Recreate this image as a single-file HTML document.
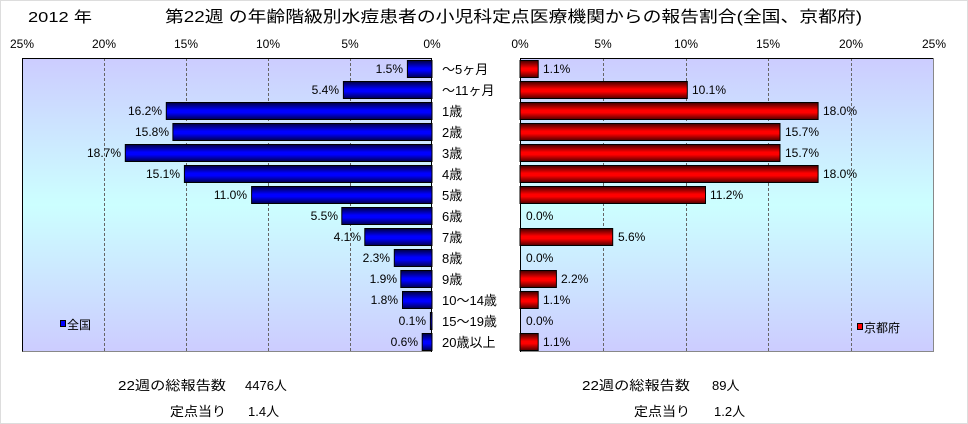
<!DOCTYPE html>
<html><head><meta charset="utf-8"><style>
html,body{margin:0;padding:0;background:#fff;}
svg{display:block;font-family:"Liberation Sans","Noto Sans CJK JP",sans-serif;}
</style></head><body>
<svg width="968" height="424" viewBox="0 0 968 424" xmlns="http://www.w3.org/2000/svg">
<defs>
<linearGradient id="bg" x1="0" y1="0" x2="0" y2="1">
<stop offset="0" stop-color="#ccccff"/><stop offset="0.5" stop-color="#ccffff"/><stop offset="1" stop-color="#ccccff"/>
</linearGradient>
<linearGradient id="bl" x1="0" y1="0" x2="0" y2="1">
<stop offset="0" stop-color="#000040"/><stop offset="0.45" stop-color="#0000ff"/><stop offset="0.6" stop-color="#0000ff"/><stop offset="1" stop-color="#000050"/>
</linearGradient>
<linearGradient id="rd" x1="0" y1="0" x2="0" y2="1">
<stop offset="0" stop-color="#400000"/><stop offset="0.45" stop-color="#ff0000"/><stop offset="0.6" stop-color="#ff0000"/><stop offset="1" stop-color="#500000"/>
</linearGradient>
</defs>
<rect x="0.5" y="0.5" width="967" height="423" fill="#fff" stroke="#ddd"/>
<text x="28" y="22" font-size="15" textLength="64" lengthAdjust="spacingAndGlyphs">2012 年</text>
<text x="165" y="22" font-size="16" textLength="697" lengthAdjust="spacingAndGlyphs">第22週 の年齢階級別水痘患者の小児科定点医療機関からの報告割合(全国、京都府)</text>
<g font-size="12" text-anchor="middle">
<text x="22" y="48">25%</text><text x="104" y="48">20%</text><text x="186" y="48">15%</text><text x="268" y="48">10%</text><text x="350" y="48">5%</text><text x="432" y="48">0%</text>
<text x="520" y="48">0%</text><text x="603" y="48">5%</text><text x="686" y="48">10%</text><text x="768" y="48">15%</text><text x="851" y="48">20%</text><text x="934" y="48">25%</text>
</g>
<rect x="22" y="58" width="410" height="294" fill="url(#bg)"/>
<rect x="520" y="58" width="414" height="294" fill="url(#bg)"/>
<g stroke="#666" stroke-dasharray="3,2" stroke-width="1">
<line x1="104.5" y1="58" x2="104.5" y2="352"/><line x1="186.5" y1="58" x2="186.5" y2="352"/><line x1="268.5" y1="58" x2="268.5" y2="352"/><line x1="350.5" y1="58" x2="350.5" y2="352"/>
<line x1="603.5" y1="58" x2="603.5" y2="352"/><line x1="686.5" y1="58" x2="686.5" y2="352"/><line x1="768.5" y1="58" x2="768.5" y2="352"/><line x1="851.5" y1="58" x2="851.5" y2="352"/>
</g>
<g fill="none">
<path d="M22.5 352 V58.5 H432" stroke="#000"/>
<path d="M22.5 351.5 H432" stroke="#888"/>
<path d="M520 58.5 H933.5" stroke="#000"/>
<path d="M933.5 58 V351.5 H520" stroke="#888"/>
<path d="M431.5 58 V352" stroke="#000"/>
<path d="M520.5 58 V352" stroke="#000"/>
</g>
<g fill="url(#bl)" stroke="#000" stroke-width="1">
<rect x="407.4" y="60.5" width="24.6" height="17"/>
<rect x="343.4" y="81.5" width="88.6" height="17"/>
<rect x="166.3" y="102.5" width="265.7" height="17"/>
<rect x="172.9" y="123.5" width="259.1" height="17"/>
<rect x="125.3" y="144.5" width="306.7" height="17"/>
<rect x="184.4" y="165.5" width="247.6" height="17"/>
<rect x="251.6" y="186.5" width="180.4" height="17"/>
<rect x="341.8" y="207.5" width="90.2" height="17"/>
<rect x="364.8" y="228.5" width="67.2" height="17"/>
<rect x="394.3" y="249.5" width="37.7" height="17"/>
<rect x="400.8" y="270.5" width="31.2" height="17"/>
<rect x="402.5" y="291.5" width="29.5" height="17"/>
<rect x="430.4" y="312.5" width="1.6" height="17"/>
<rect x="422.2" y="333.5" width="9.8" height="17"/>
</g>
<g fill="url(#rd)" stroke="#000" stroke-width="1">
<rect x="520" y="60.5" width="18.2" height="17"/>
<rect x="520" y="81.5" width="167.3" height="17"/>
<rect x="520" y="102.5" width="298.1" height="17"/>
<rect x="520" y="123.5" width="260" height="17"/>
<rect x="520" y="144.5" width="260" height="17"/>
<rect x="520" y="165.5" width="298.1" height="17"/>
<rect x="520" y="186.5" width="185.5" height="17"/>
<rect x="520" y="228.5" width="92.7" height="17"/>
<rect x="520" y="270.5" width="36.4" height="17"/>
<rect x="520" y="291.5" width="18.2" height="17"/>
<rect x="520" y="333.5" width="18.2" height="17"/>
</g>
<g font-size="12" text-anchor="end">
<text x="403" y="73">1.5%</text><text x="339" y="94">5.4%</text><text x="162" y="115">16.2%</text><text x="169" y="136">15.8%</text><text x="121" y="157">18.7%</text><text x="180" y="178">15.1%</text><text x="247" y="199">11.0%</text><text x="338" y="220">5.5%</text><text x="361" y="241">4.1%</text><text x="390" y="262">2.3%</text><text x="397" y="283">1.9%</text><text x="398" y="304">1.8%</text><text x="426" y="325">0.1%</text><text x="418" y="346">0.6%</text>
</g>
<g font-size="12">
<text x="543" y="73">1.1%</text><text x="692" y="94">10.1%</text><text x="823" y="115">18.0%</text><text x="785" y="136">15.7%</text><text x="785" y="157">15.7%</text><text x="823" y="178">18.0%</text><text x="710" y="199">11.2%</text><text x="526" y="220">0.0%</text><text x="618" y="241">5.6%</text><text x="526" y="262">0.0%</text><text x="561" y="283">2.2%</text><text x="543" y="304">1.1%</text><text x="526" y="325">0.0%</text><text x="543" y="346">1.1%</text>
</g>
<g font-size="13">
<text x="442" y="74">～5ヶ月</text><text x="442" y="95">～11ヶ月</text><text x="442" y="116">1歳</text><text x="442" y="137">2歳</text><text x="442" y="158">3歳</text><text x="442" y="179">4歳</text><text x="442" y="200">5歳</text><text x="442" y="221">6歳</text><text x="442" y="242">7歳</text><text x="442" y="263">8歳</text><text x="442" y="284">9歳</text><text x="442" y="305">10～14歳</text><text x="442" y="326">15～19歳</text><text x="442" y="347">20歳以上</text>
</g>
<rect x="60.5" y="320.5" width="5" height="6" fill="#0000ff" stroke="#000"/>
<text x="67" y="329" font-size="12">全国</text>
<rect x="857.5" y="323.5" width="5" height="6" fill="#ff0000" stroke="#000"/>
<text x="864" y="332" font-size="12">京都府</text>
<g font-size="13">
<text x="118" y="390" textLength="108" lengthAdjust="spacingAndGlyphs">22週の総報告数</text><text x="245" y="390">4476人</text>
<text x="170" y="416" textLength="56" lengthAdjust="spacingAndGlyphs">定点当り</text><text x="248" y="416">1.4人</text>
<text x="582" y="390" textLength="108" lengthAdjust="spacingAndGlyphs">22週の総報告数</text><text x="712" y="390">89人</text>
<text x="634" y="416" textLength="56" lengthAdjust="spacingAndGlyphs">定点当り</text><text x="714" y="416">1.2人</text>
</g>
</svg>
</body></html>
